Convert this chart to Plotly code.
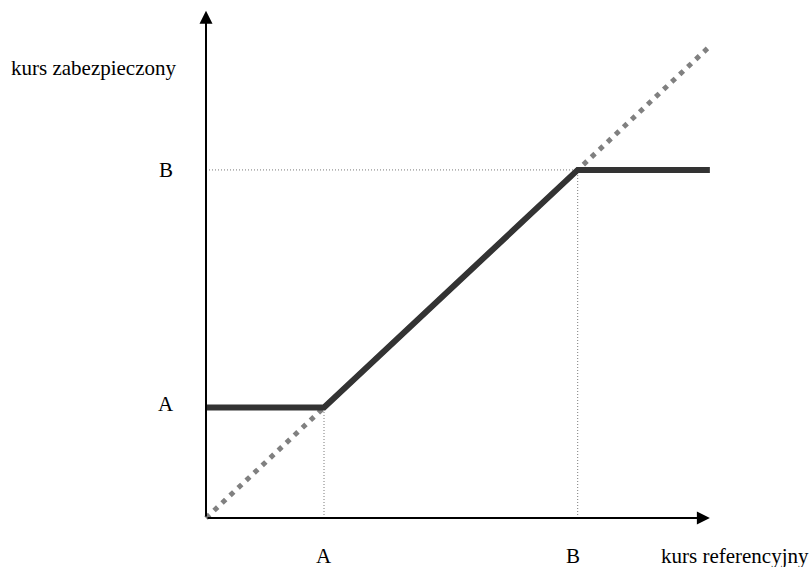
import plotly.graph_objects as go

# Data (abstract units)
A = 1.0
B = 3.15
X_END = 4.27
Y_TOP = 4.59
hedged_x = [0, A, B, X_END]
hedged_y = [A, A, B, B]
diag_x = [0, X_END]
diag_y = [0, X_END]
x_ticks = [A, B]
x_tick_labels = ["A", "B"]
y_ticks = [A, B]
y_tick_labels = ["A", "B"]
x_title = "kurs referencyjny"
y_title = "kurs zabezpieczony"

W, H = 811, 567
ox, oy = 206, 518
sx, sy = 118.0, 110.5

fig = go.Figure()

# guide dotted lines
for xv, yv in zip(x_ticks, y_ticks):
    fig.add_trace(go.Scatter(x=[xv, xv], y=[0, yv], mode="lines",
                             line=dict(color="#7a7a7a", width=1, dash="1px,2px"),
                             hoverinfo="skip", showlegend=False))
fig.add_trace(go.Scatter(x=[0, B], y=[B, B], mode="lines",
                         line=dict(color="#7a7a7a", width=1, dash="1px,2px"),
                         hoverinfo="skip", showlegend=False))

# diagonal
fig.add_trace(go.Scatter(x=diag_x, y=diag_y, mode="lines",
                         line=dict(color="#808080", width=5, dash="5px,6px"),
                         hoverinfo="skip", showlegend=False))
# hedged rate
fig.add_trace(go.Scatter(x=hedged_x, y=hedged_y, mode="lines",
                         line=dict(color="#333333", width=6),
                         hoverinfo="skip", showlegend=False))

font = dict(family="Liberation Serif", size=21, color="#000000")
ann = []
# axes arrows
ann.append(dict(x=X_END, y=0, ax=0, ay=0, xref="x", yref="y", axref="x", ayref="y",
                text="", showarrow=True, arrowhead=2, arrowsize=1.3, arrowwidth=2, arrowcolor="#000000"))
ann.append(dict(x=0, y=Y_TOP, ax=0, ay=0, xref="x", yref="y", axref="x", ayref="y",
                text="", showarrow=True, arrowhead=2, arrowsize=1.3, arrowwidth=2, arrowcolor="#000000"))
for xv, lab in zip(x_ticks, x_tick_labels):
    ann.append(dict(x=xv, y=0, xref="x", yref="y", text=lab, showarrow=False,
                    xanchor="center", yanchor="middle",
                    yshift=-38, xshift=-5 if lab == "B" else 0, font=font))
for yv, lab in zip(y_ticks, y_tick_labels):
    ann.append(dict(x=0, y=yv, xref="x", yref="y", text=lab, showarrow=False,
                    xanchor="center", yanchor="middle",
                    xshift=-40, yshift=4 if lab == "A" else 0, font=font))
ann.append(dict(x=735 / W, y=1 - 556 / H, xref="paper", yref="paper", text=x_title,
                xanchor="center", yanchor="middle", showarrow=False, font=font))
ann.append(dict(x=93 / W, y=1 - 68 / H, xref="paper", yref="paper", text=y_title,
                xanchor="center", yanchor="middle", showarrow=False, font=font))

fig.update_layout(
    width=W, height=H,
    margin=dict(l=0, r=0, t=0, b=0),
    paper_bgcolor="white", plot_bgcolor="white",
    font=dict(family="Liberation Serif"),
    xaxis=dict(range=[-ox / sx, (W - ox) / sx], visible=False, fixedrange=True),
    yaxis=dict(range=[(oy - H) / sy, oy / sy], visible=False, fixedrange=True),
    annotations=ann,
    showlegend=False,
)

fig.write_html("out.html", config={"displayModeBar": False},
               post_script="document.body.style.margin='0';")
